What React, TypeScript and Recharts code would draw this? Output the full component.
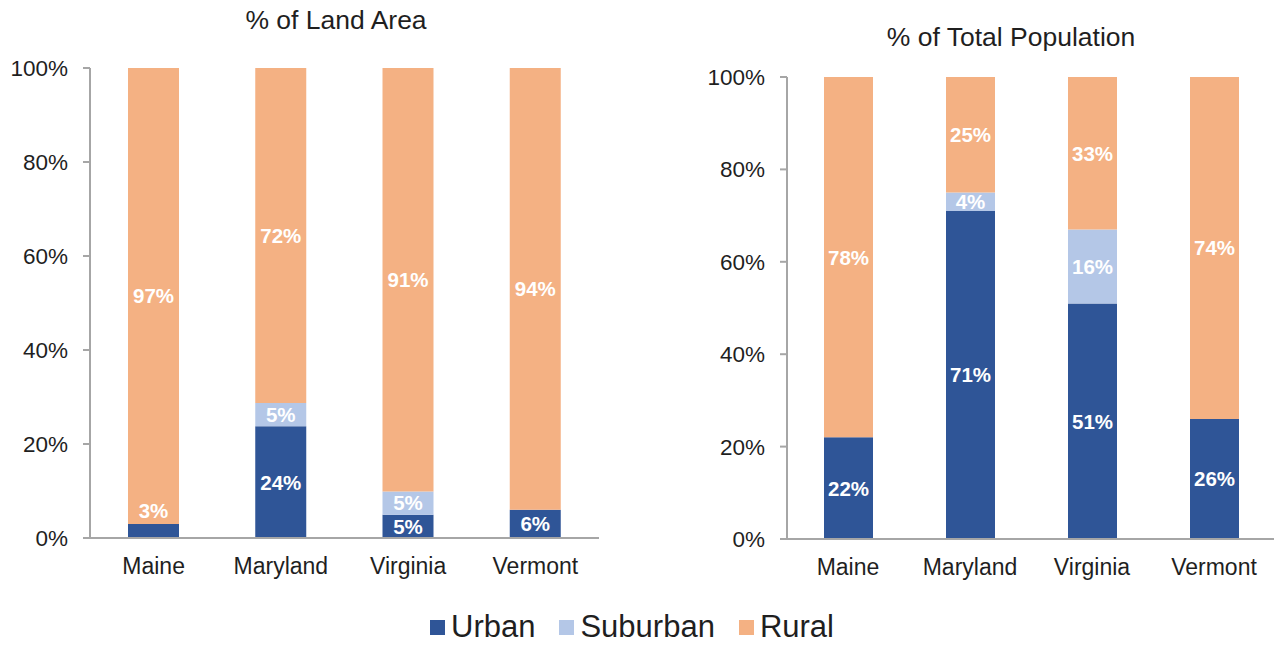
import { BarChart, Bar, XAxis, YAxis, LabelList } from 'recharts';

const states = ['Maine', 'Maryland', 'Virginia', 'Vermont'];

const landUrban = [3, 24, 5, 6];
const landSuburban = [0, 5, 5, 0];
const landRural = [97, 72, 91, 94];

const popUrban = [22, 71, 51, 26];
const popSuburban = [0, 4, 16, 0];
const popRural = [78, 25, 33, 74];

const yTicks = [0, 0.2, 0.4, 0.6, 0.8, 1];

const COLORS = { urban: '#2F5597', suburban: '#B4C7E7', rural: '#F4B183' };
const AXIS = '#A6A6A6';
const FONT = '"Liberation Sans", Arial, sans-serif';

const landData = states.map((s, i) => ({
  state: s,
  urban: landUrban[i],
  suburban: landSuburban[i],
  rural: landRural[i],
}));

const popData = states.map((s, i) => ({
  state: s,
  urban: popUrban[i],
  suburban: popSuburban[i],
  rural: popRural[i],
}));

// white bold value, pushed above the segment when it is too thin to hold it
function SegmentLabel(props: any) {
  const { x, y, width, height, value } = props;
  if (!value) return null;
  const cx = Number(x) + Number(width) / 2;
  const cy = Number(height) < 16 ? Number(y) - 13 : Number(y) + Number(height) / 2;
  return (
    <text
      x={cx}
      y={cy}
      dy="0.36em"
      textAnchor="middle"
      fill="#fff"
      fontWeight="bold"
      fontSize={20.5}
      fontFamily={FONT}
    >
      {`${value}%`}
    </text>
  );
}

function StackChart({ data, width, top, right, bottom, barSize }: any) {
  return (
    <BarChart
      width={width}
      height={600}
      data={data}
      stackOffset="expand"
      margin={{ top, right, left: 0, bottom }}
    >
      <XAxis
        dataKey="state"
        height={40}
        tickLine={false}
        tickSize={0}
        tickMargin={20}
        axisLine={{ stroke: AXIS, strokeWidth: 2 }}
        tick={{ fill: '#1f1f1f', fontSize: 23, fontFamily: FONT }}
      />
      <YAxis
        width={90}
        domain={[0, 1]}
        ticks={yTicks}
        tickSize={7}
        tickMargin={15}
        tickFormatter={(v: number) => `${Math.round(v * 100)}%`}
        axisLine={{ stroke: AXIS, strokeWidth: 2 }}
        tickLine={{ stroke: AXIS, strokeWidth: 2 }}
        tick={{ fill: '#1f1f1f', fontSize: 22.5, fontFamily: FONT }}
      />
      <Bar dataKey="urban" stackId="a" fill={COLORS.urban} barSize={barSize} isAnimationActive={false}>
        <LabelList dataKey="urban" content={SegmentLabel} />
      </Bar>
      <Bar dataKey="suburban" stackId="a" fill={COLORS.suburban} barSize={barSize} isAnimationActive={false}>
        <LabelList dataKey="suburban" content={SegmentLabel} />
      </Bar>
      <Bar dataKey="rural" stackId="a" fill={COLORS.rural} barSize={barSize} isAnimationActive={false}>
        <LabelList dataKey="rural" content={SegmentLabel} />
      </Bar>
    </BarChart>
  );
}

const legendItems = [
  { key: 'urban', label: 'Urban' },
  { key: 'suburban', label: 'Suburban' },
  { key: 'rural', label: 'Rural' },
];

export default function App() {
  return (
    <div
      style={{
        position: 'absolute',
        left: 0,
        top: 0,
        width: 1274,
        height: 645,
        background: '#fff',
        fontFamily: FONT,
        color: '#1f1f1f',
        overflow: 'hidden',
      }}
    >
      <div style={{ position: 'absolute', left: 0, top: 0 }}>
        <StackChart data={landData} width={620} top={68} right={21} bottom={22} barSize={51} />
      </div>
      <div style={{ position: 'absolute', left: 697, top: 0 }}>
        <StackChart data={popData} width={578} top={77} right={0} bottom={21} barSize={49} />
      </div>

      <div style={{ position: 'absolute', left: 136, top: 5, width: 400, textAlign: 'center', fontSize: 26.5 }}>
        % of Land Area
      </div>
      <div style={{ position: 'absolute', left: 811, top: 22, width: 400, textAlign: 'center', fontSize: 26.5 }}>
        % of Total Population
      </div>

      <div
        style={{
          position: 'absolute',
          left: 430,
          top: 613,
          display: 'flex',
          alignItems: 'center',
          gap: 24,
          fontSize: 31,
          lineHeight: '28px',
        }}
      >
        {legendItems.map((it) => (
          <div key={it.key} style={{ display: 'flex', alignItems: 'center', gap: 6 }}>
            <span style={{ width: 15, height: 15, background: (COLORS as any)[it.key], display: 'inline-block' }} />
            <span>{it.label}</span>
          </div>
        ))}
      </div>
    </div>
  );
}
